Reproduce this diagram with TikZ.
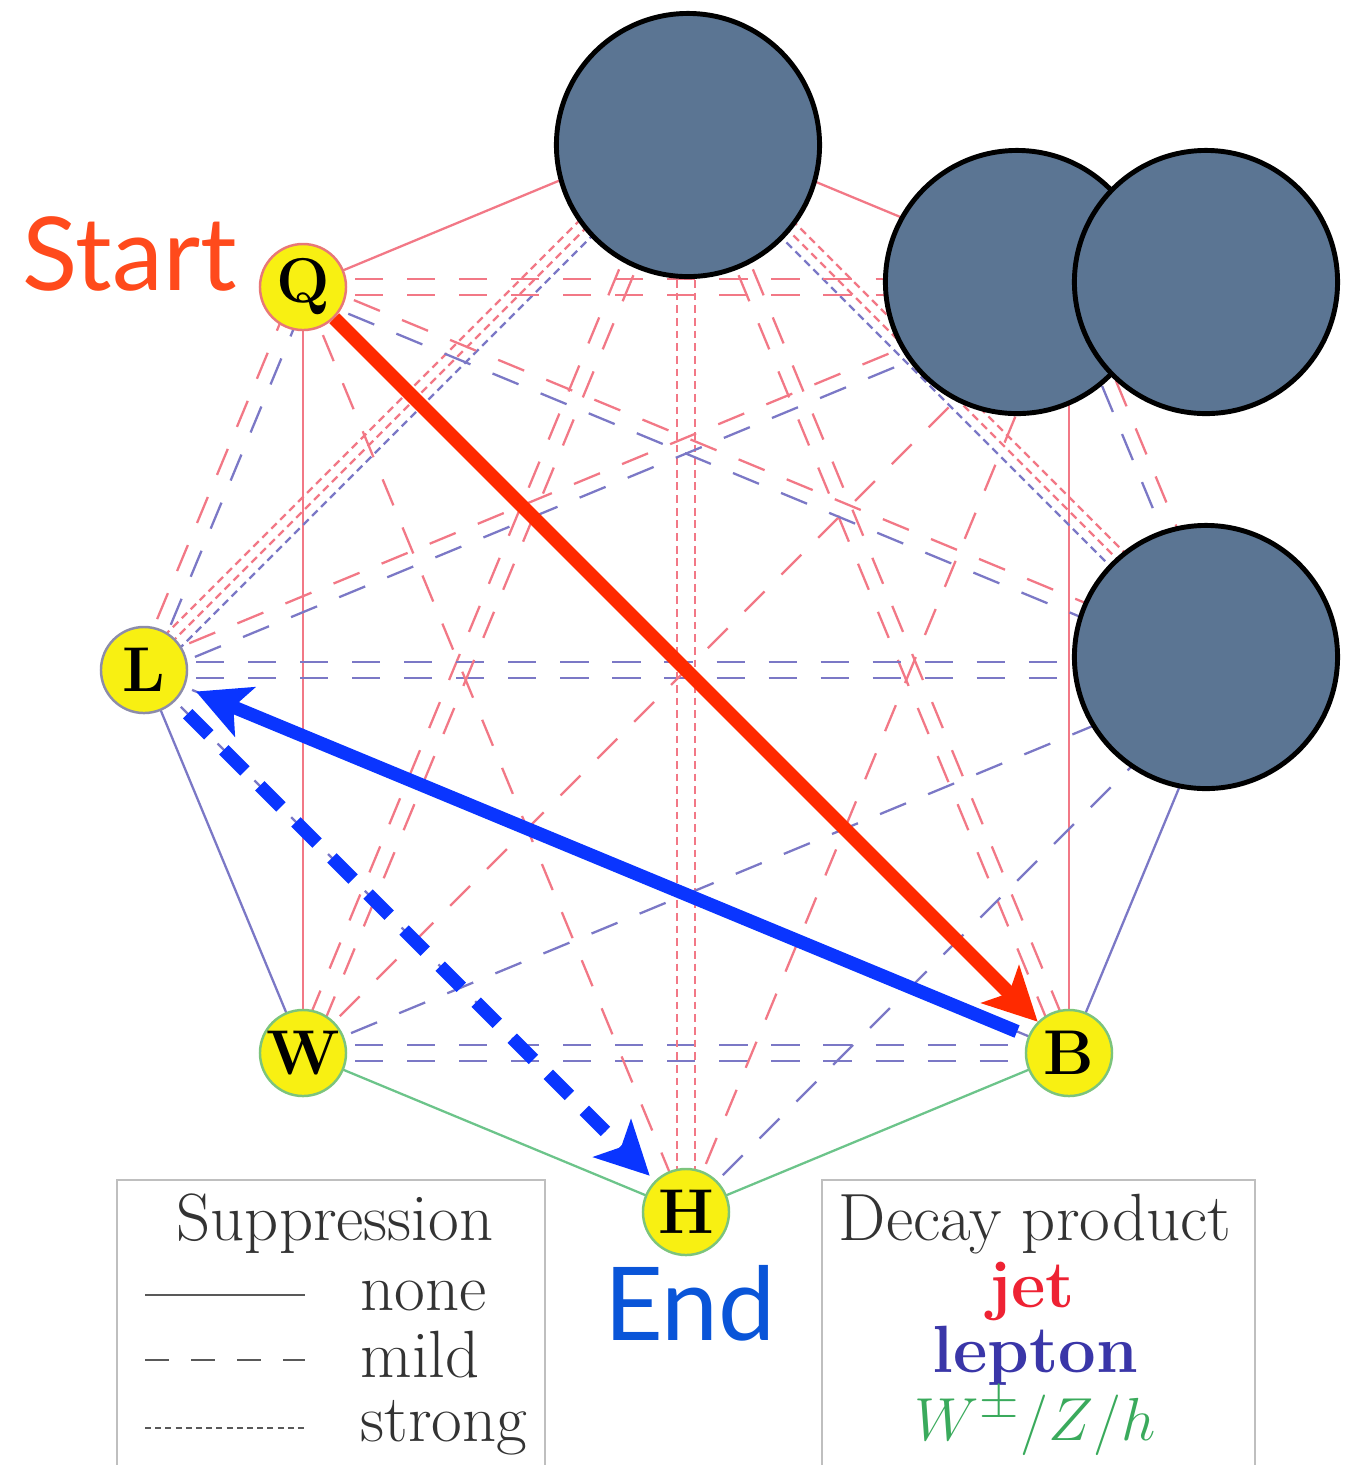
\documentclass[tikz,border=0pt]{standalone}
\usepackage{fontspec}
\newfontfamily\signfont{Lato}
\usetikzlibrary{calc, arrows.meta, backgrounds}
\definecolor{jetc}{HTML}{F27886}
\definecolor{lepc}{HTML}{7B78C6}
\definecolor{bosc}{HTML}{6CC48A}
\definecolor{jettxt}{HTML}{EE2233}
\definecolor{leptxt}{HTML}{3A36A8}
\definecolor{bostxt}{HTML}{3AAA5C}
\definecolor{nodey}{HTML}{F8F012}
\definecolor{qring}{HTML}{E87878}
\definecolor{lring}{HTML}{8C8CAA}
\definecolor{bring}{HTML}{7CC47C}
\definecolor{blobc}{HTML}{5B7593}
\definecolor{startc}{HTML}{FF4A1C}
\definecolor{endc}{HTML}{0A55D8}
\definecolor{arrredc}{HTML}{FF2A00}
\definecolor{arrbluec}{HTML}{0A35FF}
\tikzset{
  lnone/.style={draw=#1, line width=0.65pt},
  lmild/.style={draw=#1, line width=0.65pt, dash pattern=on 8pt off 6.8pt},
  lstrong/.style={draw=#1, line width=0.65pt, dash pattern=on 2.2pt off 1.4pt},
  vert/.style={circle, draw=#1, fill=nodey, line width=0.7pt, minimum size=0.86cm, inner sep=0pt,
               font=\fontsize{18}{20}\selectfont\bfseries},
  blob/.style={circle, draw=black, fill=blobc, line width=1.4pt, minimum size=2.63cm, inner sep=0pt},
  arrr/.style={-{Stealth[length=15pt, width=15pt, inset=3.5pt]}, line width=4pt, draw=arrredc},
  arrb/.style={-{Stealth[length=15pt, width=15pt, inset=3.5pt]}, line width=3.8pt, draw=arrbluec},
  arrbd/.style={arrb, dash pattern=on 8.5pt off 6pt},
  sign/.style={font=\signfont\fontsize{29}{32}\selectfont, inner sep=0pt},
  legt/.style={font=\fontsize{19}{22}\selectfont, text=black!80, inner sep=0pt},
  legl/.style={draw=black!65, line width=0.6pt},
  frame/.style={draw=black!25, line width=0.7pt},
}
% one channel between two corners, shifted sideways by #1
\newcommand{\chanline}[4][0pt]{\draw[#4] ($(#2)!#1!90:(#3)$) -- ($(#3)!#1!-90:(#2)$);}

\begin{document}
\begin{tikzpicture}[x=0.01cm, y=-0.01cm]
  \useasboundingbox (0,0) rectangle (1350,1465);
  \clip (0,0) rectangle (1350,1465);

  % hidden corners
  \coordinate (t) at (686,128);
  \coordinate (u) at (1069,287);
  \coordinate (r) at (1228,670);

  \node[vert=qring] (q) at (303,287) {Q};
  \node[vert=lring] (l) at (144,670) {L};
  \node[vert=bring] (w) at (303,1053) {W};
  \node[vert=bring] (h) at (686,1212) {H};
  \node[vert=bring] (b) at (1069,1053) {B};

  \begin{scope}[on background layer]
    % sides
    \chanline{q}{t}{lnone=jetc}
    \chanline{t}{u}{lnone=jetc}
    \chanline[2.1pt]{u}{r}{lmild=jetc} \chanline[-2.1pt]{u}{r}{lmild=lepc}
    \chanline{r}{b}{lnone=lepc}
    \chanline{b}{h}{lnone=bosc}
    \chanline{h}{w}{lnone=bosc}
    \chanline{w}{l}{lnone=lepc}
    \chanline[2.1pt]{l}{q}{lmild=jetc} \chanline[-2.1pt]{l}{q}{lmild=lepc}
    % across
    \chanline{q}{w}{lnone=jetc}
    \chanline{u}{b}{lnone=jetc}
    \chanline[2.8pt]{l}{t}{lstrong=jetc} \chanline{l}{t}{lstrong=jetc} \chanline[-2.8pt]{l}{t}{lstrong=lepc}
    \chanline[2.8pt]{t}{r}{lstrong=jetc} \chanline{t}{r}{lstrong=jetc} \chanline[-2.8pt]{t}{r}{lstrong=lepc}
    \foreach \o in {-2.2pt,2.2pt} {
      \chanline[\o]{q}{u}{lmild=jetc}
      \chanline[\o]{l}{r}{lmild=lepc}
      \chanline[\o]{w}{b}{lmild=lepc}
      \chanline[\o]{t}{w}{lmild=jetc}
      \chanline[\o]{t}{b}{lmild=jetc}
    }
    \foreach \o in {-2.5pt,2.5pt} \chanline[\o]{t}{h}{lstrong=jetc};
    \chanline[2.1pt]{q}{r}{lmild=jetc} \chanline[-2.1pt]{q}{r}{lmild=lepc}
    \chanline[2.1pt]{l}{u}{lmild=jetc} \chanline[-2.1pt]{l}{u}{lmild=lepc}
    \chanline{q}{h}{lmild=jetc}
    \chanline{h}{u}{lmild=jetc}
    \chanline{w}{u}{lmild=jetc}
    \chanline{w}{r}{lmild=lepc}
    \chanline{h}{r}{lmild=lepc}
    \chanline{l}{h}{lmild=lepc}
    \chanline{l}{b}{lmild=lepc}
  \end{scope}

  \node[blob] (blobt) at (688,145) {};
  \node[blob] (blobu) at (1017,282) {};
  \node[blob] (blobv) at (1206,282) {};
  \node[blob] (blobr) at (1206,657) {};

  \draw[arrr] (q) -- (b);
  \draw[arrb, shorten <=3.4pt, shorten >=3.4pt] (b) -- (l);
  \draw[arrbd, shorten <=5pt, shorten >=2pt] (l) -- (h);

  \node[sign, text=startc, anchor=base west] (start) at (22,290) {Start};
  \node[sign, text=endc, anchor=base] (end) at (690,1340) {End};

  % legends
  \draw[frame] (117,1180) rectangle (545,1500);
  \node[legt, anchor=base] (suptitle) at (335,1240) {Suppression};
  \draw[legl] (145,1295) -- (305,1295);
  \draw[legl, dash pattern=on 6.8pt off 6.3pt] (145,1360) -- (305,1360);
  \draw[legl, dash pattern=on 1.7pt off 1.2pt] (145,1428) -- (305,1428);
  \node[legt, anchor=base west] (supnone) at (360,1310) {none};
  \node[legt, anchor=base west] (supmild) at (360,1377) {mild};
  \node[legt, anchor=base west] (supstrong) at (360,1441) {strong};

  \draw[frame] (822,1180) rectangle (1255,1500);
  \node[legt, anchor=base] (dectitle) at (1035,1240) {Decay product};
  \node[legt, anchor=base, text=jettxt, font=\fontsize{19}{22}\selectfont\bfseries] (decjet) at (1032,1307) {jet};
  \node[legt, anchor=base, text=leptxt, font=\fontsize{19}{22}\selectfont\bfseries] (declep) at (1035,1372) {lepton};
  \node[legt, anchor=base, text=bostxt] (decbos) at (1035,1440) {$W^\pm/Z/h$};
\end{tikzpicture}
\end{document}
